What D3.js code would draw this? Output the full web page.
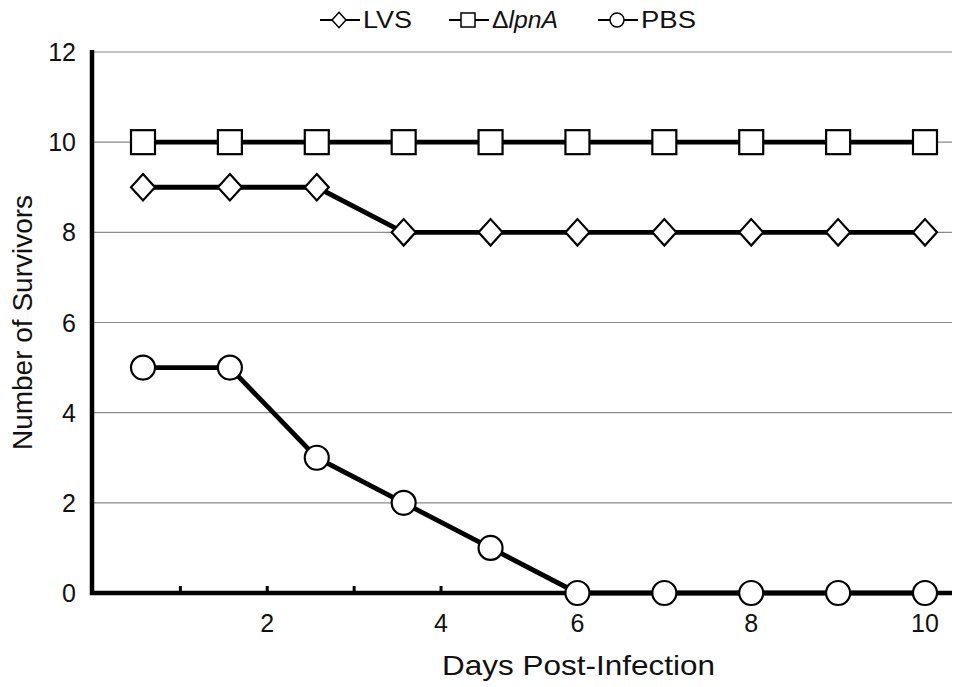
<!DOCTYPE html>
<html>
<head>
<meta charset="utf-8">
<script src="https://cdn.jsdelivr.net/npm/d3@7"></script>
<style>
  body { margin: 0; background: #fff; }
  text { font-family: "Liberation Sans", Arial, sans-serif; fill: #111; }
</style>
</head>
<body>
<div id="viz"></div>
<script>
// ── DATA ─────────────────────────────────────────────────────────────────────
const days = [1, 2, 3, 4, 5, 6, 7, 8, 9, 10];
const lvs = [9, 9, 9, 8, 8, 8, 8, 8, 8, 8];
const lpnA = [10, 10, 10, 10, 10, 10, 10, 10, 10, 10];
const pbs = [5, 5, 3, 2, 1, 0, 0, 0, 0, 0];
const yTicks = [0, 2, 4, 6, 8, 10, 12];
const xTickMarks = [1, 2, 3, 4];
const xTickLabels = [2, 4, 6, 8, 10];

// ── SETTINGS ────────────────────────────────────────────────────────────────
const width = 955, height = 687;
const svg = d3.select("#viz").append("svg")
    .attr("viewBox", [0, 0, width, height])
    .attr("width", width)
    .attr("height", height);

// first ticks on the original axis sit a bit right of the points
const tickShift = 0.43;
const axisLeft = 92, axisRight = 952;

const x = d3.scaleLinear().domain([1, 10]).range([143, 925]);
const y = d3.scaleLinear().domain([0, 12]).range([593, 52]);

// ── GRID ─────────────────────────────────────────────────────────────────────
svg.append("g")
  .selectAll("line")
  .data(yTicks.filter(d => d > 0))
  .join("line")
    .attr("x1", axisLeft)
    .attr("x2", axisRight)
    .attr("y1", d => y(d))
    .attr("y2", d => y(d))
    .attr("stroke", "#8a8a8a")
    .attr("stroke-width", 1.1);

// ── AXES ─────────────────────────────────────────────────────────────────────
svg.append("line")
  .attr("x1", axisLeft).attr("x2", axisLeft)
  .attr("y1", y(12) - 2).attr("y2", y(0) + 2)
  .attr("stroke", "#000").attr("stroke-width", 4.5);

svg.append("line")
  .attr("x1", axisLeft - 2).attr("x2", axisRight)
  .attr("y1", y(0)).attr("y2", y(0))
  .attr("stroke", "#000").attr("stroke-width", 4.5);

svg.append("g")
  .selectAll("line")
  .data(xTickMarks)
  .join("line")
    .attr("x1", d => x(d + tickShift))
    .attr("x2", d => x(d + tickShift))
    .attr("y1", y(0))
    .attr("y2", y(0) - 7)
    .attr("stroke", "#000")
    .attr("stroke-width", 3);

svg.append("g")
  .selectAll("text")
  .data(yTicks)
  .join("text")
    .attr("x", 76)
    .attr("y", d => y(d) + 9)
    .attr("text-anchor", "end")
    .attr("font-size", "25px")
    .text(d => d);

svg.append("g")
  .selectAll("text")
  .data(xTickLabels)
  .join("text")
    .attr("x", d => x(d <= 4 ? d + tickShift : d))
    .attr("y", 632)
    .attr("text-anchor", "middle")
    .attr("font-size", "25px")
    .text(d => d);

svg.append("text")
  .attr("x", 442)
  .attr("y", 675)
  .attr("font-size", "28px")
  .attr("textLength", 273)
  .attr("lengthAdjust", "spacingAndGlyphs")
  .text("Days Post-Infection");

svg.append("text")
  .attr("transform", `translate(32, ${(y(0) + y(12)) / 2}) rotate(-90)`)
  .attr("text-anchor", "middle")
  .attr("font-size", "28px")
  .text("Number of Survivors");

// ── SERIES ───────────────────────────────────────────────────────────────────
const series = [
  { name: "LVS", values: lvs, shape: "diamond" },
  { name: "lpnA", values: lpnA, shape: "square" },
  { name: "PBS", values: pbs, shape: "circle" }
];

const line = d3.line()
  .x((d, i) => x(days[i]))
  .y(d => y(d));

function drawMarker(g, shape, cx, cy, s) {
  if (shape === "circle") {
    g.append("circle").attr("cx", cx).attr("cy", cy).attr("r", s / 2);
  } else if (shape === "square") {
    g.append("rect").attr("x", cx - s / 2).attr("y", cy - s / 2)
      .attr("width", s).attr("height", s);
  } else {
    const h = s / 2;
    g.append("path")
      .attr("d", `M${cx},${cy - h * 1.1}L${cx + h},${cy}L${cx},${cy + h * 1.1}L${cx - h},${cy}Z`);
  }
}

series.forEach(s => {
  svg.append("path")
    .datum(s.values)
    .attr("d", line)
    .attr("fill", "none")
    .attr("stroke", "#000")
    .attr("stroke-width", 4.8);
});

series.forEach(s => {
  const g = svg.append("g")
    .attr("fill", "#fff")
    .attr("stroke", "#000")
    .attr("stroke-width", 2.2);
  s.values.forEach((v, i) => drawMarker(g, s.shape, x(days[i]), y(v), 24));
});

// ── LEGEND ───────────────────────────────────────────────────────────────────
const legend = [
  { shape: "diamond", x: 320, label: "LVS", w: 49 },
  { shape: "square", x: 449, label: "lpnA", w: 66 },
  { shape: "circle", x: 598, label: "PBS", w: 55 }
];
legend.forEach(l => {
  const g = svg.append("g");
  g.append("line")
    .attr("x1", l.x).attr("x2", l.x + 40)
    .attr("y1", 20).attr("y2", 20)
    .attr("stroke", "#000").attr("stroke-width", 2);
  const mg = g.append("g").attr("fill", "#fff").attr("stroke", "#000").attr("stroke-width", 1.5);
  drawMarker(mg, l.shape, l.x + 19, 20, 14);
  const t = g.append("text")
    .attr("x", l.x + 43)
    .attr("y", 28)
    .attr("font-size", "23px")
    .attr("textLength", l.w)
    .attr("lengthAdjust", "spacingAndGlyphs");
  if (l.label === "lpnA") {
    t.append("tspan").text("\u0394");
    t.append("tspan").attr("font-style", "italic").text("lpnA");
  } else {
    t.text(l.label);
  }
});
</script>
</body>
</html>
